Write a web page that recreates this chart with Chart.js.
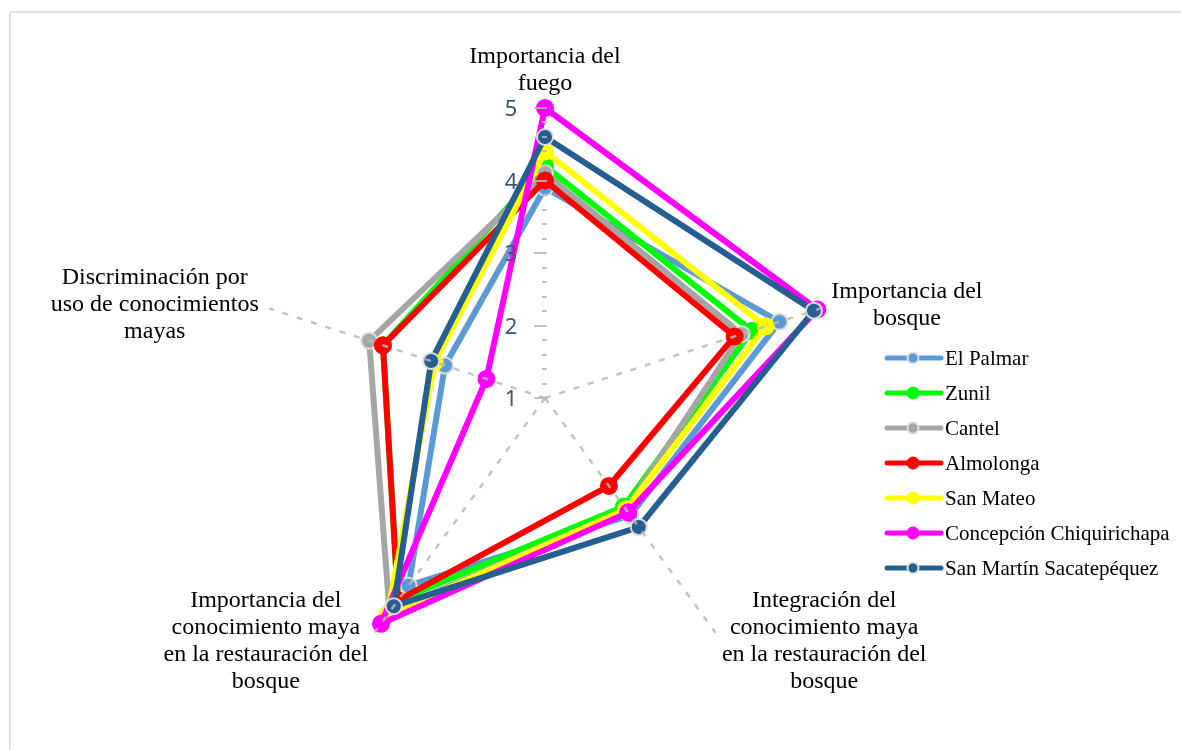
<!DOCTYPE html>
<html>
<head>
<meta charset="utf-8">
<script src="https://cdn.jsdelivr.net/npm/chart.js@4/dist/chart.umd.min.js"></script>
<style>
  html, body { margin: 0; padding: 0; background: #fff; }
  #wrap { width: 1181px; height: 750px; }
</style>
</head>
<body>
<div id="wrap"><canvas id="radar" width="1181" height="750"></canvas></div>
<script>
"use strict"

// axis categories (clockwise from top)
const categories = [
    ['Importancia del', 'fuego'],
    ['Importancia del', 'bosque'],
    ['Integración del', 'conocimiento maya', 'en la restauración del', 'bosque'],
    ['Importancia del', 'conocimiento maya', 'en la restauración del', 'bosque'],
    ['Discriminación por', 'uso de conocimientos', 'mayas']
];
const tickValues = [1, 2, 3, 4, 5];

// series values
const elPalmar   = [3.9, 4.4, 3.0, 4.2, 2.45];
const zunil      = [4.2, 4.0, 2.85, 4.45, 3.35];
const cantel     = [4.1, 3.85, 2.9, 4.65, 3.55];
const almolonga  = [4.0, 3.75, 2.5, 4.45, 3.35];
const sanMateo   = [4.4, 4.2, 2.9, 4.7, 2.6];
const concepcion = [5.0, 4.95, 2.95, 4.85, 1.85];
const sanMartin  = [4.6, 4.9, 3.2, 4.55, 2.65];

const seriesNames = ['El Palmar', 'Zunil', 'Cantel', 'Almolonga', 'San Mateo',
                     'Concepción Chiquirichapa', 'San Martín Sacatepéquez'];
const seriesData = [elPalmar, zunil, cantel, almolonga, sanMateo, concepcion, sanMartin];
const seriesColors = ['#5B9BD5', '#00FF00', '#A5A5A5', '#FF0000', '#FFFF00', '#FF00FF', '#255E91'];
const markerEdge = ['#dcdcdc', null, '#dcdcdc', null, null, null, '#dcdcdc'];

const datasets = seriesNames.map(function(name, i) {
    return {
        label: name,
        data: seriesData[i],
        borderColor: seriesColors[i],
        backgroundColor: seriesColors[i],
        borderWidth: 6,
        borderJoinStyle: 'round',
        borderCapStyle: 'round',
        fill: false,
        pointRadius: 8,
        pointBorderWidth: 2,
        pointBackgroundColor: seriesColors[i],
        pointBorderColor: markerEdge[i] || seriesColors[i],
        order: seriesNames.length - i
    };
});

const overlay = {
    id: 'overlay',
    beforeDraw(chart) {
        const ctx = chart.ctx;
        ctx.save();
        ctx.strokeStyle = '#dfe3e9';
        ctx.lineWidth = 2;
        ctx.strokeRect(10, 12, 1300, 900);
        ctx.restore();
    },
    afterDatasetsDraw(chart) {
        const r = chart.scales.r;
        const ctx = chart.ctx;
        const cx = r.xCenter, cy = r.yCenter;
        ctx.save();
        // dashed spokes (drawn over the series, like the original)
        ctx.strokeStyle = 'rgba(185,185,185,0.85)';
        ctx.lineWidth = 2.5;
        ctx.setLineDash([6, 9]);
        for (let i = 1; i < categories.length; i++) {
            const p = r.getPointPosition(i, r.drawingArea);
            ctx.beginPath();
            ctx.moveTo(cx, cy);
            ctx.lineTo(p.x, p.y);
            ctx.stroke();
        }
        ctx.setLineDash([]);
        // tick marks on the vertical axis
        ctx.lineWidth = 2;
        for (let k = 0; k <= 20; k++) {
            const v = 1 + k * 0.2;
            const y = cy - r.getDistanceFromCenterForValue(v);
            const major = k % 5 === 0;
            ctx.beginPath();
            ctx.moveTo(cx - (major ? 11 : 3), Math.round(y));
            ctx.lineTo(cx + 2, Math.round(y));
            ctx.stroke();
        }
        // tick labels
        ctx.fillStyle = '#44546a';
        ctx.font = '22px "Noto Sans"';
        ctx.textAlign = 'center';
        ctx.textBaseline = 'middle';
        tickValues.forEach(function(v) {
            const y = cy - r.getDistanceFromCenterForValue(v);
            ctx.fillText(String(v), cx - 34, y + 2);
        });
        ctx.restore();
    },
    afterDraw(chart) {
        const r = chart.scales.r;
        const ctx = chart.ctx;
        const cx = r.xCenter;
        ctx.save();
        // category labels, lines centred
        ctx.fillStyle = '#000';
        ctx.font = '24px "Liberation Serif"';
        ctx.textAlign = 'center';
        ctx.textBaseline = 'middle';
        const lh = 27;
        categories.forEach(function(lines, i) {
            const p = r.getPointPosition(i, r.drawingArea + 11);
            const h = lines.length * lh;
            const w = Math.max.apply(null, lines.map(function(t) { return ctx.measureText(t).width; }));
            let x, y0;
            if (Math.abs(p.x - cx) < 1) {
                x = p.x;
                y0 = p.y - h + lh / 2;
            } else {
                x = p.x > cx ? p.x + w / 2 : p.x - w / 2;
                y0 = p.y - h / 2 + lh / 2;
            }
            lines.forEach(function(t, j) { ctx.fillText(t, x, y0 + j * lh); });
        });
        // legend
        ctx.font = '21px "Liberation Serif"';
        ctx.textAlign = 'left';
        chart.data.datasets.forEach(function(ds, i) {
            const y = 358 + i * 35;
            ctx.strokeStyle = ds.borderColor;
            ctx.lineWidth = 5;
            ctx.lineCap = 'round';
            ctx.beginPath();
            ctx.moveTo(887, y);
            ctx.lineTo(941, y);
            ctx.stroke();
            ctx.beginPath();
            ctx.arc(913, y, 5.5, 0, Math.PI * 2);
            ctx.fillStyle = ds.pointBackgroundColor;
            ctx.fill();
            ctx.lineWidth = 2;
            ctx.strokeStyle = ds.pointBorderColor;
            ctx.stroke();
            ctx.fillStyle = '#000';
            ctx.fillText(ds.label, 945, y + 1);
        });
        ctx.restore();
    }
};

new Chart(document.getElementById('radar'), {
    type: 'radar',
    data: { labels: categories, datasets: datasets },
    options: {
        responsive: false,
        animation: false,
        events: [],
        layout: { padding: { left: 255, right: 346, top: 108, bottom: 62 } },
        plugins: { legend: { display: false }, tooltip: { enabled: false } },
        scales: {
            r: {
                min: 1,
                max: 5,
                ticks: { display: false, stepSize: 1 },
                grid: { display: false },
                angleLines: { display: false },
                pointLabels: { display: false }
            }
        }
    },
    plugins: [overlay]
});
</script>
</body>
</html>
